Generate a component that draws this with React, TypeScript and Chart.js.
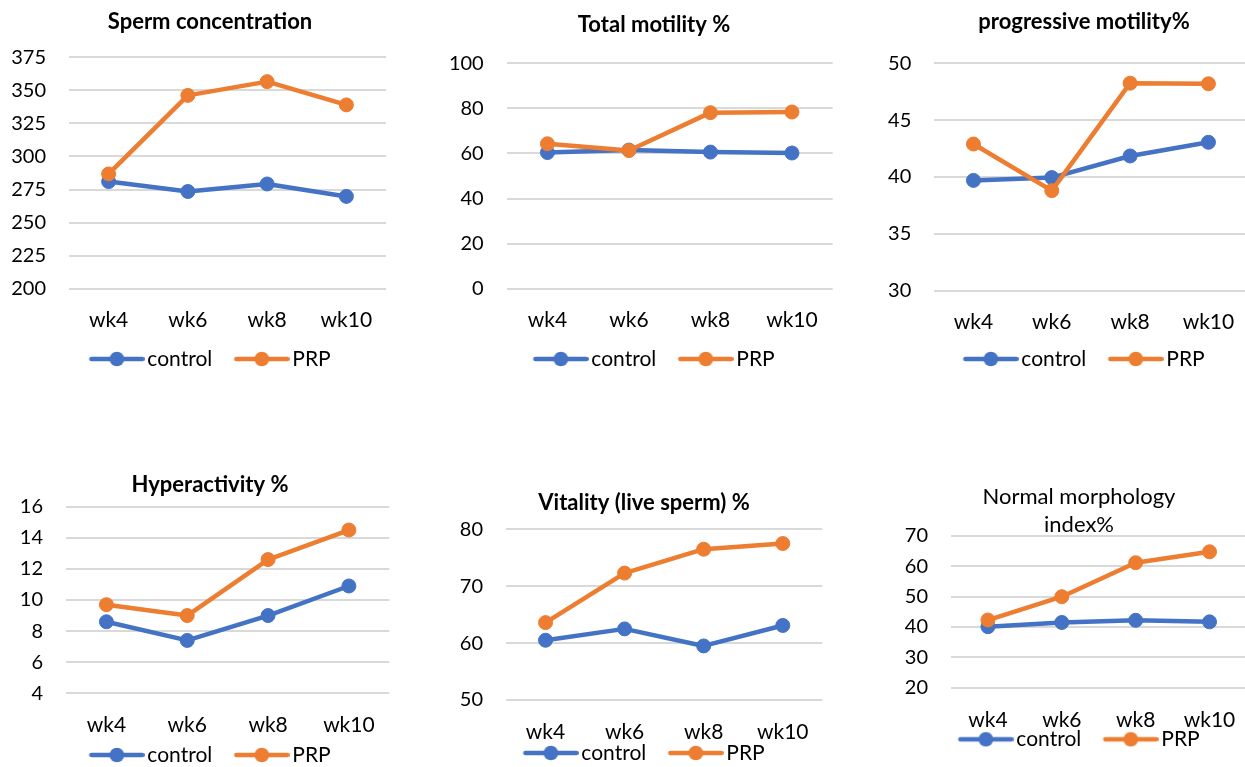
import React, { useEffect, useRef } from 'react';
import { Chart, registerables } from 'chart.js';

Chart.register(...registerables);

// ---------- data ----------
const categories = ['wk4', 'wk6', 'wk8', 'wk10'];
const seriesNames = ['control', 'PRP'];

const concControl = [281, 273.5, 279.2, 269.8];
const concPRP = [286.8, 346.2, 356.6, 339];

const totalControl = [60.4, 61.5, 60.6, 60.2];
const totalPRP = [64.3, 61.3, 78.1, 78.4];

const progControl = [39.7, 39.95, 41.85, 43.05];
const progPRP = [42.9, 38.8, 48.25, 48.2];

const hyperControl = [8.6, 7.4, 9.0, 10.9];
const hyperPRP = [9.7, 9.0, 12.6, 14.5];

const vitalControl = [60.5, 62.5, 59.5, 63.1];
const vitalPRP = [63.6, 72.3, 76.5, 77.5];

const morphControl = [40.1, 41.5, 42.2, 41.7];
const morphPRP = [42.3, 50.0, 61.2, 64.8];

const titles: (string | string[])[] = [
  'Sperm concentration',
  'Total motility %',
  'progressive motility%',
  'Hyperactivity %',
  'Vitality (live sperm) %',
  ['Normal morphology', 'index%'],
];

const yMins = [200, 0, 30, 4, 50, 20];
const yMaxs = [375, 100, 50, 16, 80, 70];
const ySteps = [25, 20, 5, 2, 10, 10];

// ---------- styles / layout ----------
const BLUE = '#4472C4';
const ORANGE = '#ED7D31';
const FONT = 'Lato';
const X_FS = 21;
const Y_FS = 20;
const LEG_FS = 21;
const TITLE_FS = 22;
const LEGEND_PAD = 22;
const LINE_LEN = 55;
const LEGEND_BOX = LINE_LEN + 3 - LEG_FS / 2;

type Layout = {
  canvas: { left: number; top: number; width: number };
  plot: { l: number; r: number; t: number; b: number };
  titleY: number;
  titleLineH: number;
  titleBold: boolean;
  xLabelY: number;
  legendY: number;
};

const layouts: Layout[] = [
  { canvas: { left: 0, top: 0, width: 420 }, plot: { l: 69, r: 386, t: 57.3, b: 288.7 }, titleY: 22, titleLineH: 26.4, titleBold: true, xLabelY: 320, legendY: 359 },
  { canvas: { left: 432, top: 0, width: 444 }, plot: { l: 506.7, r: 832.7, t: 63.3, b: 288.7 }, titleY: 25, titleLineH: 26.4, titleBold: true, xLabelY: 320, legendY: 359 },
  { canvas: { left: 880, top: 0, width: 408 }, plot: { l: 934.3, r: 1247.6, t: 63.3, b: 290.7 }, titleY: 21.7, titleLineH: 26.4, titleBold: true, xLabelY: 322, legendY: 359 },
  { canvas: { left: 0, top: 440, width: 420 }, plot: { l: 66, r: 389.3, t: 506.7, b: 693.3 }, titleY: 485, titleLineH: 26.4, titleBold: true, xLabelY: 725, legendY: 755 },
  { canvas: { left: 420, top: 440, width: 448 }, plot: { l: 506, r: 822.3, t: 529.3, b: 700 }, titleY: 502.7, titleLineH: 26.4, titleBold: true, xLabelY: 732.7, legendY: 753 },
  { canvas: { left: 902, top: 440, width: 354 }, plot: { l: 951, r: 1255, t: 536, b: 687.7 }, titleY: 497.3, titleLineH: 27.7, titleBold: false, xLabelY: 720, legendY: 739.3 },
];

const controlSeries = [concControl, totalControl, progControl, hyperControl, vitalControl, morphControl];
const prpSeries = [concPRP, totalPRP, progPRP, hyperPRP, vitalPRP, morphPRP];

function makeLegendImage(color: string): HTMLCanvasElement {
  const half = Math.max(LEGEND_BOX / 2, LINE_LEN - LEGEND_BOX / 2);
  const w = Math.ceil(half * 2);
  const off = w / 2 - LEGEND_BOX / 2;
  const c = document.createElement('canvas');
  c.width = w;
  c.height = 18;
  const g = c.getContext('2d')!;
  g.strokeStyle = color;
  g.lineWidth = 4.5;
  g.lineCap = 'round';
  g.beginPath();
  g.moveTo(off + 2, 9);
  g.lineTo(off + LINE_LEN - 2, 9);
  g.stroke();
  g.fillStyle = color;
  g.beginPath();
  g.arc(off + LINE_LEN / 2, 9, 7.3, 0, Math.PI * 2);
  g.fill();
  return c;
}

// lets x tick labels draw below the (short) x-axis box
const noClipLabels = {
  id: 'noClipLabels',
  afterLayout(chart: any) {
    const x = chart.scales.x;
    if (x) x._computeLabelArea = () => undefined;
  },
};

function Panel({ index }: { index: number }) {
  const ref = useRef<HTMLCanvasElement>(null);
  const L = layouts[index];
  const cTop = L.canvas.top;
  const cLeft = L.canvas.left;
  const legendTop = L.legendY - LEGEND_PAD - LEG_FS / 2 - cTop;
  const legendH = LEG_FS + LEGEND_PAD + 10;
  const canvasH = Math.ceil(legendTop + legendH + 1);
  const padBottom = canvasH - (legendTop + legendH);
  const nLines = Array.isArray(titles[index]) ? (titles[index] as string[]).length : 1;
  const titlePadTop = L.titleY - cTop - L.titleLineH / 2;
  const titlePadBottom = L.plot.t - cTop - titlePadTop - L.titleLineH * nLines;
  const xAxisH = legendTop - (L.plot.b - cTop);
  const xTickPad = L.xLabelY - L.plot.b - (X_FS * 1.2) / 2;

  useEffect(() => {
    if (!ref.current) return;
    const imgs = [makeLegendImage(BLUE), makeLegendImage(ORANGE)];
    const common = {
      borderWidth: 4.5,
      pointRadius: 7,
      pointBorderWidth: 1,
      borderJoinStyle: 'round',
      borderCapStyle: 'round',
      tension: 0,
    };
    const chart = new Chart(ref.current, {
      type: 'line',
      data: {
        labels: categories,
        datasets: [
          {
            ...common,
            label: seriesNames[0],
            data: controlSeries[index],
            borderColor: BLUE,
            backgroundColor: BLUE,
            pointBackgroundColor: BLUE,
            pointBorderColor: BLUE,
            order: 1,
          },
          {
            ...common,
            label: seriesNames[1],
            data: prpSeries[index],
            borderColor: ORANGE,
            backgroundColor: ORANGE,
            pointBackgroundColor: ORANGE,
            pointBorderColor: ORANGE,
            order: 0,
          },
        ],
      },
      options: {
        responsive: false,
        animation: false,
        events: [],
        layout: { padding: { left: 0, right: 0, top: 0, bottom: padBottom } },
        scales: {
          x: {
            type: 'category',
            offset: true,
            grid: { display: false, drawTicks: false },
            border: { display: false },
            ticks: { color: '#000', font: { family: FONT, size: X_FS }, padding: xTickPad, maxRotation: 0, autoSkip: false },
            afterFit: (s: any) => { s.height = xAxisH; },
          },
          y: {
            type: 'linear',
            position: 'left',
            min: yMins[index],
            max: yMaxs[index],
            grid: { color: '#d9d9d9', lineWidth: 2, drawTicks: false },
            border: { display: false },
            ticks: { stepSize: ySteps[index], color: '#000', font: { family: FONT, size: Y_FS }, padding: 23 },
            afterFit: (s: any) => { s.width = L.plot.l - cLeft; },
          },
          yR: {
            type: 'linear',
            position: 'right',
            display: true,
            grid: { display: false, drawTicks: false },
            border: { display: false },
            ticks: { display: false },
            afterFit: (s: any) => { s.width = Math.max(0, cLeft + L.canvas.width - L.plot.r); },
          },
        },
        plugins: {
          tooltip: { enabled: false },
          title: {
            display: true,
            text: titles[index],
            color: '#000',
            font: { family: FONT, size: TITLE_FS, weight: L.titleBold ? 'bold' : 'normal', lineHeight: L.titleLineH / TITLE_FS },
            padding: { top: titlePadTop, bottom: titlePadBottom },
          },
          legend: {
            display: true,
            position: 'bottom',
            labels: {
              usePointStyle: true,
              pointStyleWidth: LEGEND_BOX,
              padding: LEGEND_PAD,
              color: '#000',
              font: { family: FONT, size: LEG_FS },
              generateLabels: (ch: any) => {
                const items = (Chart.defaults.plugins.legend.labels as any).generateLabels(ch);
                items.sort((a: any, b: any) => a.datasetIndex - b.datasetIndex);
                items.forEach((it: any) => {
                  it.pointStyle = imgs[it.datasetIndex];
                  it.lineWidth = 0;
                });
                return items;
              },
            },
          },
        },
      } as any,
      plugins: [noClipLabels],
    });
    return () => chart.destroy();
  }, [index]);

  return (
    <canvas
      ref={ref}
      width={L.canvas.width}
      height={canvasH}
      style={{ position: 'absolute', left: cLeft, top: cTop, width: L.canvas.width, height: canvasH }}
    />
  );
}

export default function App() {
  return (
    <div style={{ position: 'fixed', left: 0, top: 0, width: 1245, height: 767, overflow: 'hidden', background: '#fff' }}>
      {layouts.map((_, i) => (
        <Panel key={i} index={i} />
      ))}
    </div>
  );
}
